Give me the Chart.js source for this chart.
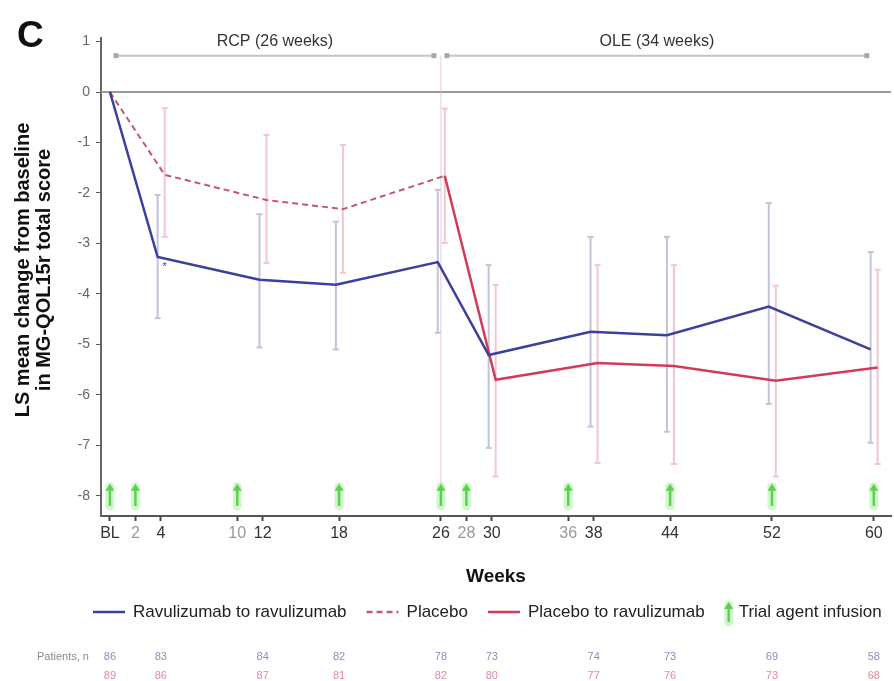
<!DOCTYPE html>
<html><head><meta charset="utf-8">
<script src="https://cdn.jsdelivr.net/npm/chart.js@4/dist/chart.umd.min.js"></script>
<style>
html,body{margin:0;padding:0;background:#fff;}
#wrap{position:relative;width:894px;height:681px;}
canvas{position:absolute;left:0;top:0;}
</style></head><body>
<div id="wrap"><canvas id="c" width="894" height="681"></canvas></div>
<script>
// ---------- data ----------
const weeks = [0, 4, 12, 18, 26, 30, 38, 44, 52, 60];
const ravuRavu = [0, -3.27, -3.72, -3.82, -3.37, -5.21, -4.75, -4.82, -4.25, -5.10];
const ravuLow  = [null, -4.48, -5.06, -5.10, -4.77, -7.05, -6.63, -6.73, -6.18, -6.95];
const ravuHigh = [null, -2.04, -2.42, -2.57, -1.94, -3.43, -2.87, -2.87, -2.20, -3.17];

const placeboWeeks = [0, 4, 12, 18, 26];
const placebo     = [0, -1.64, -2.14, -2.32, -1.66];
const placeboLow  = [null, -2.87, -3.39, -3.58, -2.99];
const placeboHigh = [null, -0.32, -0.85, -1.05, -0.33];

const switchWeeks  = [26, 30, 38, 44, 52, 60];
const placeboRavu  = [-1.66, -5.70, -5.37, -5.43, -5.72, -5.46];
const switchLow    = [null, -7.62, -7.35, -7.37, -7.62, -7.37];
const switchHigh   = [null, -3.82, -3.43, -3.43, -3.84, -3.52];

const infusionWeeks = [0, 2, 10, 18, 26, 28, 36, 44, 52, 60];
const xTickWeeks = [0, 2, 4, 10, 12, 18, 26, 28, 30, 36, 38, 44, 52, 60];
const yTickValues = [1, 0, -1, -2, -3, -4, -5, -6, -7, -8];

const nRavu    = [86, 83, 84, 82, 78, 73, 74, 73, 69, 58];
const nPlacebo = [89, 86, 87, 81, 82, 80, 77, 76, 73, 68];

const phaseLabels = ['RCP (26 weeks)', 'OLE (34 weeks)'];
const phaseBounds = [[0, 26], [26, 60]];

// ---------- styles ----------
const FONT = '"Liberation Sans", Arial, sans-serif';
const BLUE = '#3b3f9e', RED = '#d03c58', PLAC = '#c4586c', GREEN = '#5fcf50';
const BLUE_BAR = '#c2c3da', RED_BAR = '#f2c6cf';
const DODGE_BLUE = -0.25, DODGE_RED = 0.3;
const dodge = (w, d) => (w === 0 ? 0 : d);
const toPts = (ws, vs, d) => ws.map((w, i) => ({ x: w + dodge(w, d), y: vs[i] }));

function seg(ctx, x1, y1, x2, y2) { ctx.beginPath(); ctx.moveTo(x1, y1); ctx.lineTo(x2, y2); ctx.stroke(); }

function drawBars(ctx, xs, ys, ws, lows, highs, d, color) {
  ctx.save();
  ctx.strokeStyle = color; ctx.lineWidth = 2;
  ws.forEach((w, i) => {
    if (lows[i] == null) return;
    const px = xs.getPixelForValue(w + dodge(w, d));
    const y1 = ys.getPixelForValue(highs[i]), y2 = ys.getPixelForValue(lows[i]);
    seg(ctx, px, y1, px, y2);
    seg(ctx, px - 3, y1, px + 3, y1);
    seg(ctx, px - 3, y2, px + 3, y2);
  });
  ctx.restore();
}

function drawArrow(ctx, px, top, bot) {
  ctx.save();
  ctx.strokeStyle = 'rgba(150,235,140,0.45)'; ctx.lineWidth = 9; ctx.lineCap = 'round';
  seg(ctx, px, top + 3, px, bot);
  ctx.lineCap = 'butt';
  ctx.strokeStyle = GREEN; ctx.lineWidth = 2.5;
  seg(ctx, px, top + 6, px, bot);
  ctx.fillStyle = GREEN;
  ctx.beginPath(); ctx.moveTo(px, top); ctx.lineTo(px - 4.5, top + 7); ctx.lineTo(px + 4.5, top + 7); ctx.closePath(); ctx.fill();
  ctx.restore();
}

const overlay = {
  id: 'overlay',
  beforeDatasetsDraw(chart) {
    const { ctx, chartArea: a, scales: { x: xs, y: ys } } = chart;
    ctx.save();
    // zero line
    ctx.strokeStyle = '#9a9a9a'; ctx.lineWidth = 2;
    seg(ctx, a.left, ys.getPixelForValue(0), a.right, ys.getPixelForValue(0));
    // phase annotation
    const ay = ys.getPixelForValue(0.72);
    // separator at week 26
    ctx.strokeStyle = 'rgba(225,180,195,0.7)'; ctx.lineWidth = 1;
    seg(ctx, xs.getPixelForValue(26), ay, xs.getPixelForValue(26), ys.getPixelForValue(-8.2));
    phaseBounds.forEach((b, i) => {
      const x1 = xs.getPixelForValue(b[0]) + 6, x2 = xs.getPixelForValue(b[1]) - 7;
      ctx.strokeStyle = '#c4c4c4'; ctx.lineWidth = 2;
      seg(ctx, x1, ay, x2, ay);
      ctx.fillStyle = '#a8a8a8';
      ctx.fillRect(x1 - 2.5, ay - 2.5, 5, 5);
      ctx.fillRect(x2 - 2.5, ay - 2.5, 5, 5);
      ctx.fillStyle = '#333'; ctx.font = '16px ' + FONT; ctx.textAlign = 'center'; ctx.textBaseline = 'middle';
      ctx.fillText(phaseLabels[i], (x1 + x2) / 2, ay - 14);
    });
    ctx.restore();
    // error bars
    drawBars(ctx, xs, ys, weeks, ravuLow, ravuHigh, DODGE_BLUE, BLUE_BAR);
    drawBars(ctx, xs, ys, placeboWeeks, placeboLow, placeboHigh, DODGE_RED, RED_BAR);
    drawBars(ctx, xs, ys, switchWeeks, switchLow, switchHigh, DODGE_RED, RED_BAR);
    // infusion arrows
    infusionWeeks.forEach(w => drawArrow(ctx, xs.getPixelForValue(w), ys.getPixelForValue(-7.76), ys.getPixelForValue(-8.2)));
  },
  afterDraw(chart) {
    const { ctx, chartArea: a, scales: { x: xs, y: ys } } = chart;
    ctx.save();
    // panel letter
    ctx.fillStyle = '#111'; ctx.font = 'bold 37px ' + FONT; ctx.textAlign = 'left'; ctx.textBaseline = 'alphabetic';
    ctx.fillText('C', 17, 47);
    // asterisk near week 4
    ctx.fillStyle = BLUE; ctx.font = '11px ' + FONT; ctx.textAlign = 'center';
    ctx.fillText('*', xs.getPixelForValue(4.3), ys.getPixelForValue(-3.52));
    // y title
    ctx.save();
    ctx.translate(33, 270); ctx.rotate(-Math.PI / 2);
    ctx.fillStyle = '#111'; ctx.font = 'bold 20px ' + FONT; ctx.textAlign = 'center'; ctx.textBaseline = 'middle';
    ctx.fillText('LS mean change from baseline', 0, -10);
    ctx.fillText('in MG-QOL15r total score', 0, 11);
    ctx.restore();
    // x title
    ctx.fillStyle = '#111'; ctx.font = 'bold 19px ' + FONT; ctx.textAlign = 'center'; ctx.textBaseline = 'middle';
    ctx.fillText('Weeks', (a.left + a.right) / 2, 577);
    // legend
    const ly = 612;
    let lx = 93;
    ctx.font = '17px ' + FONT; ctx.textAlign = 'left'; ctx.textBaseline = 'middle';
    const items = [
      { t: 'Ravulizumab to ravulizumab', c: BLUE, dash: [] },
      { t: 'Placebo', c: PLAC, dash: [6, 4] },
      { t: 'Placebo to ravulizumab', c: RED, dash: [] },
      { t: 'Trial agent infusion', arrow: true }
    ];
    items.forEach(it => {
      if (it.arrow) {
        drawArrow(ctx, lx + 4, ly - 10, ly + 10);
        lx += 14;
      } else {
        ctx.save(); ctx.strokeStyle = it.c; ctx.lineWidth = 2.5; ctx.setLineDash(it.dash);
        seg(ctx, lx, ly, lx + 32, ly); ctx.restore();
        lx += 40;
      }
      ctx.fillStyle = '#222';
      ctx.fillText(it.t, lx, ly);
      lx += ctx.measureText(it.t).width + 20;
    });
    // patients row
    ctx.font = '11px ' + FONT; ctx.fillStyle = '#8a8a8a'; ctx.textAlign = 'left';
    ctx.fillText('Patients, n', 37, 657);
    ctx.textAlign = 'center';
    weeks.forEach((w, i) => {
      const px = xs.getPixelForValue(w);
      ctx.fillStyle = '#8a8cc0'; ctx.fillText(String(nRavu[i]), px, 657);
      ctx.fillStyle = '#e08a9a'; ctx.fillText(String(nPlacebo[i]), px, 676);
    });
    ctx.restore();
  }
};

const infusionOnly = xTickWeeks.filter(w => !weeks.includes(w));

new Chart(document.getElementById('c'), {
  type: 'line',
  data: {
    datasets: [
      { label: 'Ravulizumab to ravulizumab', data: toPts(weeks, ravuRavu, DODGE_BLUE), borderColor: BLUE, borderWidth: 2.5, pointRadius: 0, tension: 0 },
      { label: 'Placebo', data: toPts(placeboWeeks, placebo, DODGE_RED), borderColor: PLAC, borderDash: [6, 4], borderWidth: 2, pointRadius: 0, tension: 0 },
      { label: 'Placebo to ravulizumab', data: toPts(switchWeeks, placeboRavu, DODGE_RED), borderColor: RED, borderWidth: 2.5, pointRadius: 0, tension: 0 }
    ]
  },
  options: {
    responsive: false, animation: false,
    layout: { padding: { left: 0, top: 38, right: 3, bottom: 135 } },
    plugins: { legend: { display: false }, tooltip: { enabled: false } },
    scales: {
      x: {
        type: 'linear', min: -0.7, max: 61.35,
        afterFit: s => { s.height = 30; },
        afterBuildTicks: s => { s.ticks = xTickWeeks.map(v => ({ value: v })); },
        ticks: {
          autoSkip: false, maxRotation: 0, padding: 3,
          callback: v => (v === 0 ? 'BL' : String(v)),
          color: c => (infusionOnly.includes(c.tick && c.tick.value) ? '#999' : '#333'),
          font: { size: 16, family: FONT }
        },
        grid: { drawOnChartArea: false, drawTicks: true, tickLength: 5, color: '#444', tickWidth: 2 },
        border: { display: true, color: '#555', width: 2 }
      },
      y: {
        min: -8.4, max: 1.07,
        afterFit: s => { s.width = 101; },
        afterBuildTicks: s => { s.ticks = yTickValues.map(v => ({ value: v })); },
        ticks: { padding: 6, color: '#666', font: { size: 14, family: FONT }, callback: v => String(v) },
        grid: { drawOnChartArea: false, drawTicks: true, tickLength: 5, color: '#555', tickWidth: 1 },
        border: { display: true, color: '#666', width: 2 }
      }
    }
  },
  plugins: [overlay]
});
</script>
</body></html>
